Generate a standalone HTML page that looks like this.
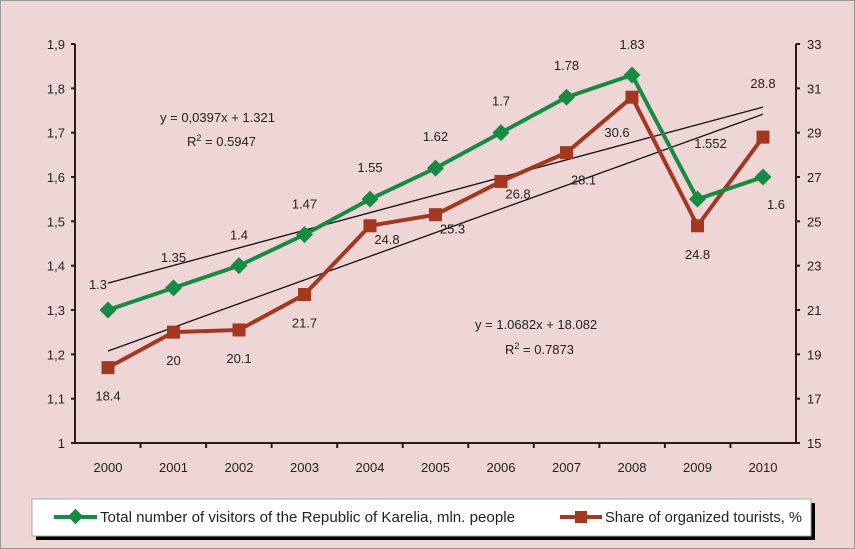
<!DOCTYPE html>
<html><head><meta charset="utf-8"><style>
body{margin:0;background:#fff}
svg{display:block;font-family:"Liberation Sans",Arial,sans-serif}
</style></head><body>
<svg width="855" height="549">
<rect x="0.5" y="0.5" width="854" height="548" fill="#efd6d6" stroke="#999"/>
<g id="axes"></g><g id="trends"></g><g id="series"></g><g id="labels"></g>
<g>
<rect x="36" y="503" width="779" height="37" fill="#000"/>
<rect x="32" y="499" width="779" height="37" fill="#fff" stroke="#aaa"/>
<g>
<line x1="54" y1="517" x2="97" y2="517" stroke="#178a44" stroke-width="4"/>
<rect x="70" y="511" width="11" height="11" fill="#178a44" transform="rotate(45 75.5 516.5)"/>
<text x="100" y="522" font-size="15" fill="#222" textLength="415" lengthAdjust="spacingAndGlyphs">Total number of visitors of the Republic of Karelia, mln. people</text></g>
<g>
<line x1="560" y1="517" x2="602" y2="517" stroke="#a33720" stroke-width="4"/>
<rect x="575" y="511" width="12" height="12" fill="#a33720"/>
<text x="605" y="522" font-size="15" fill="#222" textLength="197" lengthAdjust="spacingAndGlyphs">Share of organized tourists, %</text></g>
</g>
<g font-size="13" fill="#222">
<text x="160" y="122">y = 0,0397x + 1.321</text><text x="187" y="146">R<tspan dy="-5" font-size="9">2</tspan><tspan dy="5"> = 0.5947</tspan></text></g>
<g font-size="13" fill="#222">
<text x="475" y="329">y = 1.0682x + 18.082</text><text x="505" y="354">R<tspan dy="-5" font-size="9">2</tspan><tspan dy="5"> = 0.7873</tspan></text></g>
</svg>
<script>
const years=["2000","2001","2002","2003","2004","2005","2006","2007","2008","2009","2010"];
const visitors=[1.3,1.35,1.4,1.47,1.55,1.62,1.7,1.78,1.83,1.55,1.6];
const visitorLabels=["1.3","1.35","1.4","1.47","1.55","1.62","1.7","1.78","1.83","1.552","1.6"];
const tourists=[18.4,20,20.1,21.7,24.8,25.3,26.8,28.1,30.6,24.8,28.8];
const touristLabels=["18.4","20","20.1","21.7","24.8","25.3","26.8","28.1","30.6","24.8","28.8"];
const leftTicks=[1,1.1,1.2,1.3,1.4,1.5,1.6,1.7,1.8,1.9];
const rightTicks=[15,17,19,21,23,25,27,29,31,33];
const trendV=[0.0397,1.321], trendT=[1.0682,18.082];
const NS="http://www.w3.org/2000/svg";
const X0=75,X1=796,T=44,B=443;
const x=i=>108+i*(763-108)/10;
const yL=v=>B-(v-1)/0.9*(B-T);
const yR=v=>B-(v-15)/18*(B-T);
function el(p,tag,a){const e=document.createElementNS(NS,tag);for(const k in a)e.setAttribute(k,a[k]);p.appendChild(e);return e;}
const ax=document.getElementById('axes');
let a=el(ax,'line',{x1:X0,y1:T,x2:X0,y2:B,stroke:'#2a1a1a','stroke-width':2});

a=el(ax,'line',{x1:X1,y1:T,x2:X1,y2:B,stroke:'#2a1a1a','stroke-width':2});

a=el(ax,'line',{x1:X0,y1:B,x2:X1,y2:B,stroke:'#2a1a1a','stroke-width':2});

leftTicks.forEach(v=>{const y=yL(v);el(ax,'line',{x1:X0-4,y1:y,x2:X0,y2:y,stroke:'#2a1a1a','stroke-width':2});
const t=el(ax,'text',{x:X0-10,y:y+5,'text-anchor':'end','font-size':13,fill:'#222'});t.textContent=String(v).replace('.',',');
});
rightTicks.forEach(v=>{const y=yR(v);el(ax,'line',{x1:X1,y1:y,x2:X1+4,y2:y,stroke:'#2a1a1a','stroke-width':2});
const t=el(ax,'text',{x:X1+11,y:y+5,'font-size':13,fill:'#222'});t.textContent=v;
});
years.forEach((yr,i)=>{const xb=X0+(i+1)*(X1-X0)/11;if(i<10)el(ax,'line',{x1:xb,y1:B,x2:xb,y2:B+5,stroke:'#2a1a1a','stroke-width':2});
const t=el(ax,'text',{x:x(i),y:B+29,'text-anchor':'middle','font-size':13,fill:'#222'});t.textContent=yr;
});
const tr=document.getElementById('trends');
let l=el(tr,'line',{x1:x(0),y1:yL(trendV[0]*1+trendV[1]),x2:x(10),y2:yL(trendV[0]*11+trendV[1]),stroke:'#111','stroke-width':1.3});

l=el(tr,'line',{x1:x(0),y1:yR(trendT[0]*1+trendT[1]),x2:x(10),y2:yR(trendT[0]*11+trendT[1]),stroke:'#111','stroke-width':1.3});

const se=document.getElementById('series');
let p=el(se,'polyline',{points:tourists.map((v,i)=>x(i)+','+yR(v)).join(' '),fill:'none',stroke:'#a33720','stroke-width':4});

tourists.forEach((v,i)=>{const r=el(se,'rect',{x:x(i)-6.5,y:yR(v)-6.5,width:13,height:13,fill:'#a33720'});
});
p=el(se,'polyline',{points:visitors.map((v,i)=>x(i)+','+yL(v)).join(' '),fill:'none',stroke:'#178a44','stroke-width':4});

visitors.forEach((v,i)=>{const cx=x(i),cy=yL(v);const r=el(se,'rect',{x:cx-6,y:cy-6,width:12,height:12,fill:'#178a44',transform:`rotate(45 ${cx} ${cy})`});
});
const lb=document.getElementById('labels');
const vOff=[[-10,-21],[0,-26],[0,-26],[0,-26],[0,-27],[0,-27],[0,-27],[0,-27],[0,-26],[13,-51],[13,32]];
const tOff=[[0,33],[0,33],[0,33],[0,33],[17,18],[17,19],[17,17],[17,32],[-15,40],[0,33],[0,-49]];
visitors.forEach((v,i)=>{const t=el(lb,'text',{x:x(i)+vOff[i][0],y:yL(v)+vOff[i][1],'text-anchor':'middle','font-size':13,fill:'#222'});t.textContent=visitorLabels[i];
});
tourists.forEach((v,i)=>{const t=el(lb,'text',{x:x(i)+tOff[i][0],y:yR(v)+tOff[i][1],'text-anchor':'middle','font-size':13,fill:'#222'});t.textContent=touristLabels[i];
});
</script>
</body></html>
